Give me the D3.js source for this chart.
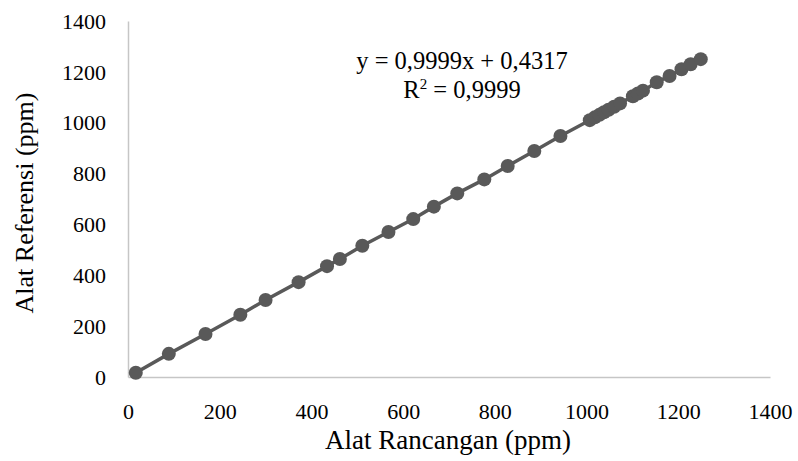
<!DOCTYPE html>
<html><head><meta charset="utf-8">
<script src="https://cdn.jsdelivr.net/npm/d3@7"></script>
<style>body{margin:0;background:#fff}svg{display:block}text{font-family:"Liberation Serif",serif;fill:#000}</style>
</head><body><svg id="c" width="798" height="461"></svg>
<script>
const xValues = [17, 89, 169, 245, 300, 372, 434, 462, 511, 568, 622, 667, 718, 777, 828, 886, 943, 1007, 1018, 1028, 1038, 1048, 1060, 1073, 1101, 1112, 1123, 1153, 1181, 1207, 1227, 1249];
const yValues = [17, 91, 169, 245, 303, 373, 436, 464, 516, 570, 621, 670, 722, 777, 830, 889, 948, 1010, 1021, 1031, 1041, 1051, 1063, 1076, 1104, 1115, 1126, 1159, 1184, 1210, 1230, 1250];
const xTicks = [0, 200, 400, 600, 800, 1000, 1200, 1400];
const yTicks = [0, 200, 400, 600, 800, 1000, 1200, 1400];
const equationText = "y = 0,9999x + 0,4317";
const r2Value = "0,9999";
const xTitle = "Alat Rancangan (ppm)";
const yTitle = "Alat Referensi (ppm)";

const svg = d3.select("#c");
const x = d3.scaleLinear().domain([0, 1400]).range([128, 770]);
const y = d3.scaleLinear().domain([0, 1400]).range([377, 21]);
const fmt = d3.format("d");

// axes
const xAxis = svg.append("g").attr("transform", "translate(0,377)")
  .call(d3.axisBottom(x).tickValues(xTicks).tickFormat(fmt).tickSize(0).tickPadding(0));
xAxis.select(".domain").attr("stroke", "#c6c6c6").attr("stroke-width", 1.5);
xAxis.selectAll("text").attr("font-size", 22).attr("font-family", "Liberation Serif").attr("fill", "#000").attr("dy", null).attr("y", 42);

const yAxis = svg.append("g").attr("transform", "translate(128,0)")
  .call(d3.axisLeft(y).tickValues(yTicks).tickFormat(fmt).tickSize(0).tickPadding(0));
yAxis.select(".domain").attr("stroke", "#c6c6c6").attr("stroke-width", 1.5);
yAxis.selectAll("text").attr("font-size", 22).attr("font-family", "Liberation Serif").attr("fill", "#000").attr("x", -22).attr("dy", "0.33em");

// data
const pts = xValues.map((v, i) => [v, yValues[i]]);
svg.append("path").datum(pts)
  .attr("fill", "none").attr("stroke", "#595959").attr("stroke-width", 3.5)
  .attr("d", d3.line().x(d => x(d[0])).y(d => y(d[1])));
svg.append("g").selectAll("circle").data(pts).join("circle")
  .attr("cx", d => x(d[0])).attr("cy", d => y(d[1])).attr("r", 7).attr("fill", "#595959");

// equation
svg.append("text").attr("x", 462).attr("y", 69).attr("text-anchor", "middle").attr("font-size", 24.5).text(equationText);
const r2 = svg.append("text").attr("x", 462).attr("y", 98).attr("text-anchor", "middle").attr("font-size", 24.5);
r2.append("tspan").text("R");
r2.append("tspan").attr("dy", -9).attr("font-size", 15).text("2");
r2.append("tspan").attr("dy", 9).text(" = " + r2Value);

// titles
svg.append("text").attr("x", 448).attr("y", 449).attr("text-anchor", "middle").attr("font-size", 27).text(xTitle);
svg.append("text").attr("transform", "translate(33,203) rotate(-90)").attr("text-anchor", "middle").attr("font-size", 26).text(yTitle);
</script></body></html>
